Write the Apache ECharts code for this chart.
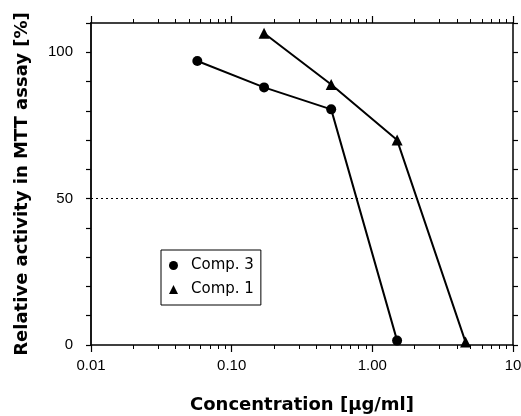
<!DOCTYPE html>
<html>
<head>
<meta charset="utf-8">
<script src="https://cdn.jsdelivr.net/npm/echarts@6/dist/echarts.min.js"></script>
<style>html,body{margin:0;padding:0;background:#fff}#c{width:521px;height:416px}</style>
</head>
<body>
<div id="c"></div>
<script>
// ---- data ----
const concComp3 = [0.057, 0.17, 0.51, 1.5];
const actComp3  = [97, 88, 80.5, 1.5];
const concComp1 = [0.17, 0.51, 1.5, 4.6];
const actComp1  = [106.5, 89, 70, 1];
const xTickLabels = ['0.01', '0.10', '1.00', '10'];
const yTickLabels = [0, 50, 100];
const minorMultipliers = [2, 3, 4, 5, 6, 7, 8, 9];
const decades = [0.01, 0.1, 1];
const refLine = 50;

const minorTicks = [];
decades.forEach(d => minorMultipliers.forEach(m => minorTicks.push(+(d * m).toPrecision(3))));

const black = '#000';
const tickFont = 'Liberation Sans';
const nameFont = 'DejaVu Sans';

function logAxis(pos, opts) {
  return Object.assign({
    type: 'log', logBase: 10, min: 0.01, max: 10, position: pos,
    gridIndex: 0,
    splitLine: { show: false },
    axisLine: { show: false, lineStyle: { color: black, width: 1.5 } },
    axisTick: { show: true, inside: false, length: 7, lineStyle: { color: black, width: 1.2 } },
    axisLabel: { show: false },
    minorTick: { show: false },
    minorSplitLine: { show: false }
  }, opts);
}

const chart = echarts.init(document.getElementById('c'), null, { renderer: 'canvas' });
chart.setOption({
  animation: false,
  backgroundColor: '#fff',
  grid: { left: 91, right: 8, top: 23, bottom: 71, containLabel: false, outerBoundsMode: 'none' },
  legend: {
    orient: 'vertical', left: 161, top: 250,
    padding: [8, 7, 8, 8], itemGap: 9,
    itemWidth: 9, itemHeight: 9,
    borderColor: black, borderWidth: 1, borderRadius: 0,
    backgroundColor: '#fff',
    textStyle: { color: black, fontFamily: nameFont, fontSize: 15, padding: [0, 0, 0, 8] },
    data: [{ name: 'Comp. 3', icon: 'circle' }, { name: 'Comp. 1', icon: 'triangle' }]
  },
  xAxis: [
    logAxis('bottom', {
      axisLine: { show: true, lineStyle: { color: black, width: 1.5 } },
      axisLabel: {
        show: true, color: black, fontFamily: tickFont, fontSize: 15, margin: 13,
        showMinLabel: true, showMaxLabel: true,
        formatter: v => xTickLabels[Math.round(Math.log10(v)) + 2]
      },
      name: 'Concentration [µg/ml]', nameLocation: 'middle', nameGap: 51,
      nameTextStyle: { color: black, fontFamily: nameFont, fontWeight: 'bold', fontSize: 18 }
    }),
    logAxis('bottom', { axisTick: { show: true, length: 4, customValues: minorTicks, lineStyle: { color: black, width: 1 } } }),
    logAxis('top', { axisLine: { show: true, lineStyle: { color: black, width: 1.5 } } }),
    logAxis('top', { axisTick: { show: true, length: 4, customValues: minorTicks, lineStyle: { color: black, width: 1 } } })
  ],
  yAxis: [
    {
      type: 'value', min: 0, max: 110, interval: 10, position: 'left',
      splitLine: { show: false },
      axisLine: { show: true, lineStyle: { color: black, width: 1.8 } },
      axisTick: { show: true, inside: false, length: 5, lineStyle: { color: black, width: 1.2 } },
      axisLabel: {
        color: black, fontFamily: tickFont, fontSize: 15, margin: 18,
        formatter: v => (yTickLabels.indexOf(v) >= 0 ? String(v) : '')
      },
      name: 'Relative activity in MTT assay [%]', nameLocation: 'middle', nameGap: 60, nameRotate: 90,
      nameTextStyle: { color: black, fontFamily: nameFont, fontWeight: 'bold', fontSize: 18 }
    },
    {
      type: 'value', min: 0, max: 110, interval: 10, position: 'right',
      splitLine: { show: false },
      axisLine: { show: true, lineStyle: { color: black, width: 1.5 } },
      axisTick: { show: true, inside: false, length: 5, lineStyle: { color: black, width: 1.2 } },
      axisLabel: { show: false }
    }
  ],
  series: [
    {
      name: 'Comp. 3', type: 'line', xAxisIndex: 0, yAxisIndex: 0,
      data: concComp3.map((c, i) => [c, actComp3[i]]),
      symbol: 'circle', symbolSize: 10,
      itemStyle: { color: black },
      lineStyle: { color: black, width: 2 },
      markLine: {
        silent: true, symbol: ['none', 'none'], label: { show: false },
        lineStyle: { color: black, width: 1, type: [2, 3] },
        data: [{ yAxis: refLine }]
      }
    },
    {
      name: 'Comp. 1', type: 'line', xAxisIndex: 0, yAxisIndex: 0,
      data: concComp1.map((c, i) => [c, actComp1[i]]),
      symbol: 'triangle', symbolSize: 11,
      itemStyle: { color: black },
      lineStyle: { color: black, width: 2 }
    }
  ]
});
</script>
</body>
</html>
